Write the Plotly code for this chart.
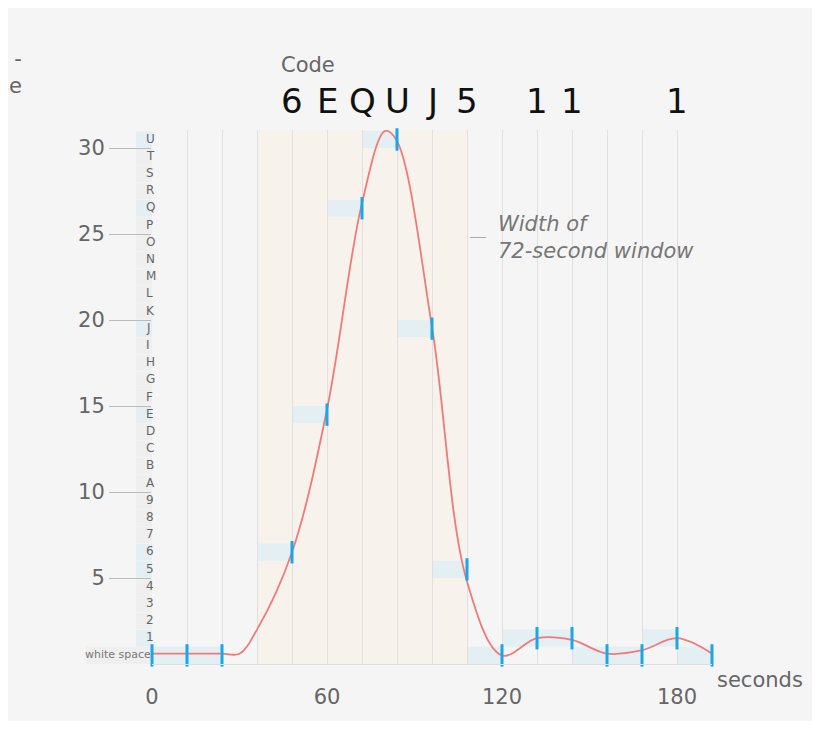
import plotly.graph_objects as go

codes = ["white space"] + [str(i) for i in range(1, 10)] + [chr(c) for c in range(ord("A"), ord("U") + 1)]
sample_t = [0, 12, 24, 48, 60, 72, 84, 96, 108, 120, 132, 144, 156, 168, 180, 192]
sample_code = [0, 0, 0, 6, 14, 26, 30, 19, 5, 0, 1, 1, 0, 0, 1, 0]
curve_t = [0, 12, 24, 30, 36, 48, 60, 72, 80, 84, 96, 108, 120, 132, 144, 156, 168, 180, 192]
curve_v = [0.6, 0.6, 0.6, 0.6, 2.0, 6.5, 14.8, 26.8, 31.0, 30.4, 19.6, 4.8, 0.5, 1.5, 1.4, 0.6, 0.8, 1.5, 0.6]
header_t = [48, 60, 72, 84, 96, 108, 132, 144, 180]
header_txt = ["6", "E", "Q", "U", "J", "5", "1", "1", "1"]

PW = 560.0
def px(p):
    return p / PW

fig = go.Figure()
shapes = []
annotations = []
shapes.append(dict(type="rect", xref="x", yref="paper", x0=36, x1=108, y0=0, y1=1,
                   fillcolor="#f7f3ec", line_width=0, layer="below"))
for t, c in zip(sample_t, sample_code):
    if t == 0:
        continue
    shapes.append(dict(type="rect", x0=t - 12, x1=t, y0=c, y1=c + 1, fillcolor="#e4eff3",
                       line_width=0, layer="below"))
shapes.append(dict(type="rect", x0=0, x1=24, y0=0, y1=1, fillcolor="#e4eff3", line_width=0, layer="below"))
used = set(sample_code)
for k, name in enumerate(codes):
    if k == 0:
        shapes.append(dict(type="rect", xref="paper", x0=px(-66), x1=px(0), y0=0, y1=1,
                           fillcolor="#efefef", line_width=0, layer="below"))
        annotations.append(dict(xref="paper", x=px(1), y=0.55, text=name, showarrow=False, xanchor="right",
                                font=dict(size=11, color="#777")))
    else:
        shapes.append(dict(type="rect", xref="paper", x0=px(-16), x1=px(0), y0=k + 0.02, y1=k + 0.98,
                           fillcolor="#e4eff3" if k in used else "#efefef", line_width=0, layer="below"))
        annotations.append(dict(xref="paper", x=px(-8.5), y=k + 0.55, text=name, showarrow=False,
                                font=dict(size=12, color="#666")))
annotations.append(dict(xref="paper", x=px(-8), y=31.1, text="code", showarrow=False, yanchor="bottom",
                        xanchor="left", xshift=-14, font=dict(size=15, color="#666")))
for t, s in zip(header_t, header_txt):
    annotations.append(dict(x=t, y=1.055, yref="paper", text=s, showarrow=False, yanchor="middle",
                            font=dict(size=34, color="#111")))
annotations.append(dict(x=px(127), y=1.148, xref="paper", yref="paper", text="Code", showarrow=False,
                        xanchor="left", font=dict(size=21, color="#666")))
annotations.append(dict(x=1.005, y=-0.057, xref="paper", yref="paper", text="seconds", showarrow=False,
                        xanchor="left", font=dict(size=21, color="#666")))
annotations.append(dict(x=118, y=24.8, text="<i>Width of<br>72-second window</i>", showarrow=False,
                        xanchor="left", align="left", font=dict(size=21, color="#777")))
shapes.append(dict(type="line", x0=109, x1=114.5, y0=24.8, y1=24.8, line=dict(color="#aaa", width=1)))
annotations.append(dict(x=px(-152), y=1.16, xref="paper", yref="paper", text="-<br>se", showarrow=False,
                        xanchor="right", xshift=24, align="right", font=dict(size=21, color="#666")))

fig.add_trace(go.Scatter(x=curve_t, y=curve_v, mode="lines", line=dict(color="#f07a78", width=1.8, shape="spline"),
                         hoverinfo="skip", cliponaxis=False))
fig.add_trace(go.Scatter(x=sample_t, y=[c + 0.5 for c in sample_code], mode="markers",
                         marker=dict(symbol="line-ns", size=16, line=dict(color="#1ba6e8", width=3)),
                         hoverinfo="skip", cliponaxis=False))

fig.update_layout(
    width=804, height=713, margin=dict(l=144, r=100, t=122, b=47),
    paper_bgcolor="#f5f5f5", plot_bgcolor="#f5f5f5", showlegend=False,
    shapes=shapes, annotations=annotations,
    font=dict(family="DejaVu Sans", color="#666"),
    xaxis=dict(range=[0, 192], tickvals=[0, 60, 120, 180], showgrid=True, gridcolor="#e0e0e0",
               minor=dict(dtick=12, showgrid=True, gridcolor="#e0e0e0"), zeroline=False,
               showline=True, linecolor="#ddd", tickfont=dict(size=21, color="#666"), ticks="", ticklabelstandoff=14),
    yaxis=dict(range=[0, 31.05], tickvals=[5, 10, 15, 20, 25, 30], showgrid=False, zeroline=False,
               ticks="outside", ticklen=42, tickcolor="#bbb", tickfont=dict(size=21, color="#666")),
)
fig.write_html("out.html")
